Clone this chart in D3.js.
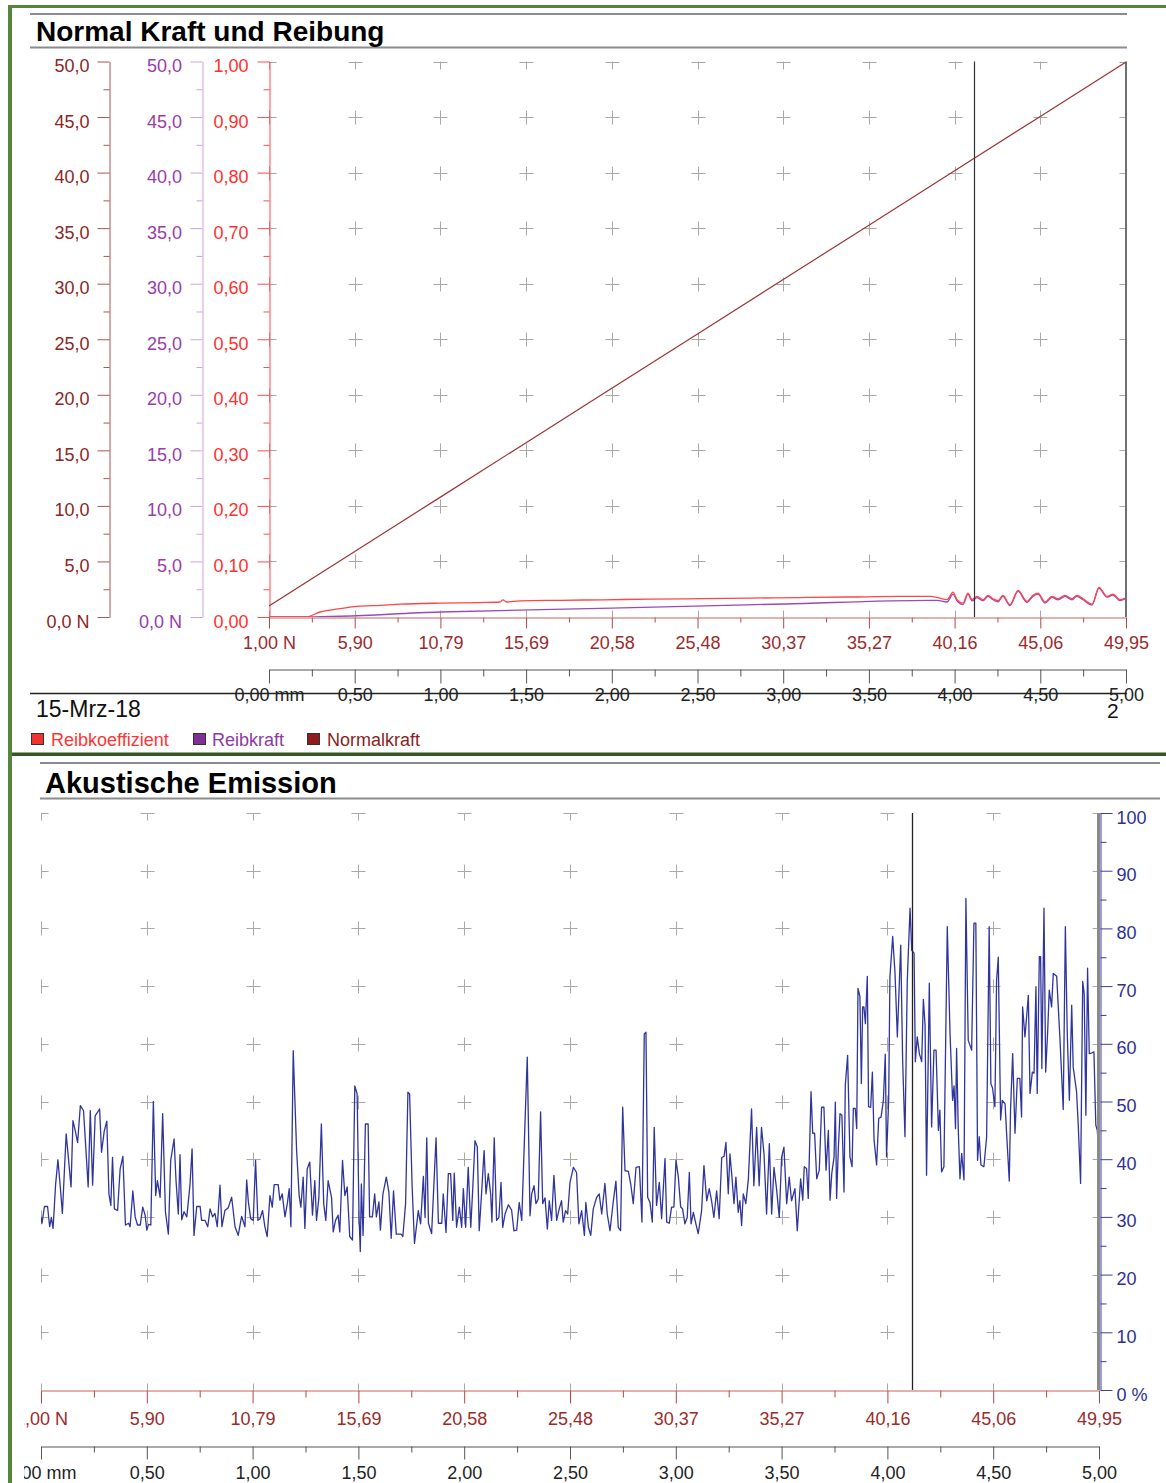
<!DOCTYPE html>
<html><head><meta charset="utf-8">
<script src="https://cdn.jsdelivr.net/npm/d3@7"></script>
<style>
body{margin:0;background:#fff;}
svg{display:block;font-family:"Liberation Sans",Arial,Helvetica,sans-serif;}
</style></head><body>
<svg id="c" width="1166" height="1483"></svg>
<script>
// ---------- data ----------
const mmTicks = [0,0.5,1,1.5,2,2.5,3,3.5,4,4.5,5];
const mmMinorTicks = [0.25,0.75,1.25,1.75,2.25,2.75,3.25,3.75,4.25,4.75];
const mmTickLabels = ["0,00 mm","0,50","1,00","1,50","2,00","2,50","3,00","3,50","4,00","4,50","5,00"];
const nTickLabels = ["1,00 N","5,90","10,79","15,69","20,58","25,48","30,37","35,27","40,16","45,06","49,95"];
const forceTicks = [0,5,10,15,20,25,30,35,40,45,50];
const forceMinorTicks = [2.5,7.5,12.5,17.5,22.5,27.5,32.5,37.5,42.5,47.5];
const forceTickLabels = ["0,0 N","5,0","10,0","15,0","20,0","25,0","30,0","35,0","40,0","45,0","50,0"];
const coefTicks = [0,0.1,0.2,0.3,0.4,0.5,0.6,0.7,0.8,0.9,1.0];
const coefMinorTicks = [0.05,0.15,0.25,0.35,0.45,0.55,0.65,0.75,0.85,0.95];
const coefTickLabels = ["0,00","0,10","0,20","0,30","0,40","0,50","0,60","0,70","0,80","0,90","1,00"];
const aeTicks = [0,10,20,30,40,50,60,70,80,90,100];
const aeMinorTicks = [5,15,25,35,45,55,65,75,85,95];
const aeTickLabels = ["0 %","10","20","30","40","50","60","70","80","90","100"];
const cursorMm = 4.115;

// Normalkraft (N) vs. distance (mm)
const normalMm = [0,0.5,1,1.5,2,2.5,3,3.5,4,4.5,5];
const normalN  = [1.00,5.90,10.79,15.69,20.58,25.48,30.37,35.27,40.16,45.06,49.95];

// Reibkoeffizient vs. distance (mm)
const coefMm  = [0,0.216,0.298,0.414,0.513,0.648,0.764,0.998,1.231,1.348,1.365,1.385,1.464,1.698,1.949,2.223,2.515,2.806,3.098,3.390,3.681,3.860,
  3.897,3.956,3.991,4.014,4.049,4.078,4.102,4.131,4.166,4.195,4.224,4.253,4.282,4.323,4.370,4.422,4.457,4.487,4.527,4.568,4.603,4.644,4.685,4.714,4.749,4.802,4.842,4.889,4.924,4.965,4.994];
const coefVal = [0,0,0.009,0.015,0.019,0.021,0.023,0.025,0.026,0.027,0.031,0.027,0.029,0.030,0.031,0.032,0.033,0.034,0.035,0.036,0.037,0.037,
  0.0354,0.0311,0.0449,0.0311,0.0251,0.0431,0.0311,0.0372,0.0311,0.0390,0.0329,0.0293,0.0390,0.0221,0.0479,0.0282,0.0390,0.0431,0.0269,0.0372,0.0329,0.0390,0.0329,0.0390,0.0329,0.0233,0.0533,0.0372,0.0413,0.0311,0.0341];

// Reibkraft (N) vs. distance (mm)
const frictionMm = [0,0.216,1.0,2.0,3.0,3.860,
  3.897,3.956,3.991,4.014,4.049,4.078,4.102,4.131,4.166,4.195,4.224,4.253,4.282,4.323,4.370,4.422,4.457,4.487,4.527,4.568,4.603,4.644,4.685,4.714,4.749,4.802,4.842,4.889,4.924,4.965,4.994];
const frictionN  = [0,0,0.45,0.80,1.17,1.50,
  1.50,1.35,2.05,1.45,1.12,2.05,1.45,1.75,1.45,1.85,1.55,1.37,1.85,1.02,2.30,1.32,1.85,2.05,1.25,1.76,1.55,1.85,1.55,1.85,1.55,1.08,2.58,1.78,1.98,1.47,1.62];

// Akustische Emission (%) vs. distance (mm)
const aeMm = [0.000,0.005,0.016,0.031,0.041,0.049,0.057,0.069,0.080,0.090,0.101,0.119,0.132,0.142,0.151,0.162,0.173,0.186,0.201,0.223,0.233,0.244,0.256,0.277,0.286,0.299,0.311,0.321,0.330,0.338,0.347,0.362,0.374,0.387,0.399,0.414,0.421,0.434,0.445,0.456,0.469,0.481,0.492,0.500,0.508,0.519,0.531,0.542,0.550,0.563,0.575,0.588,0.602,0.613,0.629,0.638,0.649,0.657,0.665,0.676,0.689,0.704,0.714,0.723,0.736,0.752,0.759,0.775,0.788,0.799,0.811,0.822,0.833,0.846,0.855,0.869,0.885,0.901,0.917,0.932,0.948,0.964,0.972,0.980,0.991,1.003,1.014,1.025,1.035,1.047,1.058,1.069,1.082,1.093,1.102,1.121,1.129,1.140,1.153,1.164,1.173,1.181,1.192,1.208,1.220,1.228,1.239,1.247,1.258,1.270,1.283,1.294,1.302,1.313,1.325,1.336,1.346,1.357,1.373,1.381,1.392,1.404,1.412,1.425,1.436,1.447,1.459,1.472,1.483,1.494,1.503,1.509,1.514,1.522,1.533,1.546,1.553,1.566,1.577,1.585,1.597,1.604,1.616,1.632,1.644,1.655,1.666,1.679,1.702,1.710,1.723,1.734,1.742,1.754,1.765,1.783,1.794,1.807,1.815,1.823,1.831,1.846,1.867,1.878,1.894,1.901,1.914,1.925,1.936,1.946,1.953,1.964,1.977,1.988,1.996,2.007,2.019,2.031,2.040,2.051,2.062,2.071,2.082,2.094,2.103,2.114,2.125,2.131,2.142,2.153,2.164,2.174,2.182,2.193,2.209,2.224,2.235,2.248,2.260,2.272,2.284,2.298,2.311,2.319,2.330,2.339,2.350,2.361,2.371,2.382,2.393,2.402,2.413,2.424,2.437,2.449,2.460,2.468,2.479,2.489,2.500,2.516,2.531,2.542,2.555,2.568,2.575,2.587,2.598,2.610,2.626,2.638,2.650,2.665,2.676,2.689,2.705,2.717,2.728,2.739,2.749,2.760,2.776,2.787,2.799,2.812,2.828,2.840,2.851,2.859,2.867,2.878,2.889,2.898,2.909,2.922,2.933,2.949,2.957,2.969,2.980,2.991,3.001,3.012,3.023,3.032,3.043,3.054,3.064,3.072,3.083,3.095,3.106,3.122,3.133,3.146,3.158,3.169,3.180,3.193,3.205,3.217,3.228,3.237,3.248,3.256,3.264,3.275,3.284,3.295,3.303,3.311,3.319,3.331,3.343,3.358,3.369,3.382,3.394,3.405,3.417,3.429,3.442,3.453,3.464,3.476,3.489,3.500,3.511,3.524,3.536,3.547,3.563,3.574,3.590,3.600,3.607,3.618,3.626,3.639,3.647,3.656,3.666,3.678,3.689,3.700,3.710,3.721,3.729,3.737,3.748,3.754,3.760,3.768,3.776,3.785,3.795,3.801,3.812,3.823,3.833,3.839,3.848,3.855,3.861,3.870,3.877,3.883,3.889,3.896,3.905,3.911,3.921,3.929,3.937,3.949,3.959,3.970,3.981,3.990,3.996,4.006,4.012,4.025,4.036,4.047,4.063,4.072,4.083,4.094,4.107,4.115,4.126,4.132,4.141,4.151,4.162,4.170,4.178,4.185,4.198,4.209,4.220,4.230,4.241,4.248,4.256,4.267,4.283,4.296,4.308,4.315,4.322,4.327,4.335,4.343,4.351,4.362,4.371,4.382,4.398,4.409,4.418,4.426,4.434,4.442,4.456,4.469,4.481,4.489,4.497,4.508,4.516,4.524,4.535,4.543,4.556,4.563,4.576,4.582,4.592,4.603,4.614,4.626,4.634,4.639,4.650,4.658,4.666,4.674,4.685,4.693,4.702,4.708,4.718,4.724,4.730,4.740,4.748,4.757,4.765,4.776,4.784,4.800,4.815,4.831,4.841,4.850,4.860,4.871,4.878,4.894,4.902,4.913,4.923,4.930,4.938,4.946,4.954,4.965,4.976,4.985,4.992,4.997];
const aeVal = [30.0,28.9,31.8,31.8,28.3,29.9,28.0,35.6,39.9,35.7,30.6,44.4,39.2,35.2,46.7,44.9,42.9,49.3,48.4,35.2,48.4,35.5,47.5,48.7,41.2,44.9,46.6,34.0,32.0,40.3,31.4,31.1,38.3,40.5,28.6,28.9,28.3,34.5,30.0,28.6,28.6,31.7,30.3,27.7,28.7,28.6,50.0,33.7,36.3,33.4,47.9,30.9,27.0,39.8,43.5,36.3,30.5,40.8,29.5,30.9,30.0,35.5,41.8,26.8,31.8,31.8,29.4,29.4,28.3,31.4,30.0,30.6,28.3,35.5,28.3,31.1,31.6,33.4,28.3,26.8,30.1,28.3,36.4,32.6,29.7,29.4,39.8,29.4,29.7,31.1,28.3,26.6,33.7,31.7,35.6,35.6,32.9,34.0,30.0,32.3,34.9,28.3,58.8,41.5,33.7,31.7,36.9,28.0,38.3,39.5,30.3,36.3,29.4,33.2,46.1,32.3,29.4,36.3,33.4,27.4,29.4,30.3,27.4,39.8,33.7,35.2,26.6,26.0,52.7,51.3,30.0,24.0,35.7,26.8,46.1,46.1,30.0,30.0,34.0,30.0,32.6,27.7,34.0,36.9,34.3,26.3,34.5,27.0,27.0,26.6,32.3,51.6,51.3,35.2,25.4,31.1,28.8,37.0,29.9,43.7,28.9,27.1,43.7,28.9,28.9,34.0,27.3,37.5,37.5,29.4,37.6,28.2,31.7,28.2,34.9,28.2,38.6,28.2,34.6,43.2,42.1,27.6,34.0,41.5,34.0,37.5,34.0,29.1,43.7,29.4,29.9,36.0,28.2,30.5,32.1,31.2,27.6,27.7,32.5,29.4,42.7,57.7,30.2,34.0,35.4,32.3,33.1,48.2,32.3,33.3,27.9,32.8,29.4,37.2,29.4,31.4,32.8,29.1,31.1,30.5,36.0,38.6,37.7,28.8,31.1,26.8,32.5,28.2,26.8,31.4,33.4,34.0,30.5,35.8,30.5,27.6,32.8,36.2,28.2,27.6,49.0,38.0,37.9,35.7,32.3,38.6,38.7,29.1,61.7,62.0,33.4,32.5,29.1,45.5,32.0,36.0,29.7,40.1,29.1,28.9,31.7,31.7,39.8,36.9,31.7,31.4,28.8,29.9,37.7,28.8,30.8,28.8,27.1,31.1,38.9,32.8,34.9,32.8,29.9,34.5,29.7,40.3,40.5,42.9,34.0,40.9,37.5,32.3,36.9,30.8,32.8,28.5,34.0,32.3,36.6,48.7,35.4,45.5,35.4,45.5,40.9,30.5,42.7,30.5,38.6,34.9,29.9,40.3,42.1,32.3,36.9,32.8,34.9,27.6,36.6,32.9,38.7,38.4,33.2,51.7,44.5,44.5,36.6,38.1,49.0,49.0,38.1,45.0,32.9,37.5,40.4,49.9,33.2,41.8,47.9,47.6,34.3,52.8,58.0,40.4,38.7,48.8,48.8,45.3,69.6,68.2,53.1,66.4,66.4,63.5,71.7,49.1,49.0,55.1,43.3,39.0,47.1,47.3,50.2,58.2,40.4,50.2,71.6,78.6,72.2,61.2,77.1,57.2,43.9,71.0,83.5,76.2,75.7,56.9,61.2,58.3,56.9,67.7,63.2,37.2,70.5,45.6,58.9,58.9,45.0,48.5,37.8,38.7,80.3,61.8,50.2,52.7,45.3,59.2,45.0,36.6,41.0,36.4,85.2,60.6,58.9,80.9,80.9,39.8,43.9,39.0,38.7,43.9,80.3,53.1,52.3,49.1,71.0,75.0,46.8,50.2,49.6,44.7,36.2,48.5,58.3,44.5,54.0,54.0,47.3,66.4,61.2,64.7,68.4,51.4,55.1,54.9,69.9,51.4,75.1,75.1,55.7,83.5,55.1,61.8,69.3,66.4,72.2,71.7,61.2,48.6,80.3,61.8,50.2,66.7,56.0,51.7,45.9,35.8,70.8,68.7,47.6,73.1,58.3,58.4,58.6,45.9,45.0,42.1];

const legendItems = ["Reibkoeffizient","Reibkraft","Normalkraft"];
const legendColors = ["#ee3333","#7f2f95","#8e1c1c"];
const legendTextColors = ["#ff3535","#8e3aa4","#8b1f1f"];

// ---------- drawing ----------
const FONT = '"Liberation Sans", Arial, Helvetica, sans-serif';
const svg = d3.select('#c');
const defs = svg.append('defs');
defs.append('clipPath').attr('id','clipT').append('rect').attr('x',269).attr('y',61.5).attr('width',857).attr('height',555.5);
defs.append('clipPath').attr('id','clipB').append('rect').attr('x',41).attr('y',813).attr('width',1058).attr('height',577);
defs.append('clipPath').attr('id','clipPanelB').append('rect').attr('x',24).attr('y',756).attr('width',1142).attr('height',727);

// frame
svg.append('rect').attr('x',8).attr('y',5).attr('width',4).attr('height',1478).attr('fill','#55843b');
svg.append('rect').attr('x',8).attr('y',5).attr('width',1158).attr('height',3).attr('fill','#55843b');
svg.append('rect').attr('x',12).attr('y',752.5).attr('width',1154).attr('height',3.5).attr('fill','#36561f');

// title rules
function rule(x1,x2,y,c,w){ svg.append('line').attr('x1',x1).attr('x2',x2).attr('y1',y).attr('y2',y).attr('stroke',c).attr('stroke-width',w); }
rule(30,1127,14,'#8c8c8c',2);
rule(30,1127,47.5,'#8c8c8c',2);
rule(40,1160,763,'#8c8c8c',2);
rule(40,1160,798.5,'#8c8c8c',2);
svg.append('text').attr('x',36).attr('y',41).attr('font-size',28).attr('font-weight','bold').attr('fill','#000').text('Normal Kraft und Reibung');
svg.append('text').attr('x',45).attr('y',792.5).attr('font-size',29).attr('font-weight','bold').attr('fill','#000').text('Akustische Emission');

// scales
const xT = d3.scaleLinear().domain([0,5]).range([269,1126]);
const yC = d3.scaleLinear().domain([0,1]).range([617,61.5]);
const yF = d3.scaleLinear().domain([0,50]).range([617,61.5]);
const xB = d3.scaleLinear().domain([0,5]).range([41,1099]);
const yA = d3.scaleLinear().domain([0,100]).range([1390,813]);

function crosses(xs, ys, xsc, ysc, clip){
  const g = svg.append('g').attr('clip-path',`url(#${clip})`).attr('stroke','#a8a8a8').attr('stroke-width',1).attr('fill','none');
  xs.forEach(m => ys.forEach(v => {
    const x = Math.round(xsc(m))+0.5, y = Math.round(ysc(v))+0.5;
    g.append('path').attr('d',`M${x-7},${y}H${x+7}M${x},${y-7}V${y+7}`);
  }));
}
crosses(mmTicks, coefTicks, xT, yC, 'clipT');
crosses(mmTicks, aeTicks, xB, yA, 'clipB');

function makeAxis(parent, gen, scale, tr, major, labels, minor, o){
  const gm = parent.append('g').attr('transform',tr);
  gm.call(gen(scale).tickValues(minor).tickSize(o.minor).tickFormat(()=>'').tickSizeOuter(0));
  gm.select('.domain').remove();
  gm.selectAll('line').attr('stroke',o.tick);
  const g = parent.append('g').attr('transform',tr);
  g.call(gen(scale).tickValues(major).tickFormat((d,i)=>labels[i]).tickSize(o.major).tickPadding(o.pad).tickSizeOuter(0));
  g.attr('font-family',null).attr('font-size',null);
  g.select('.domain').attr('stroke',o.line).attr('stroke-width',o.lw||1);
  g.selectAll('.tick line').attr('stroke',o.tick);
  g.selectAll('.tick text').attr('fill',o.text).style('font-size',(o.fs||18)+'px').style('font-family',FONT);
  if(o.dy) g.selectAll('.tick text').attr('dy',o.dy);
  return g;
}

// --- top chart axes
makeAxis(svg, d3.axisLeft, yF, 'translate(109.5,0)', forceTicks, forceTickLabels, forceMinorTicks,
  {major:12, minor:6, pad:8, line:'#a85656', tick:'#a85656', text:'#8c2626', dy:'0.56em'});
makeAxis(svg, d3.axisLeft, yF, 'translate(202.5,0)', forceTicks, forceTickLabels, forceMinorTicks,
  {major:12, minor:6, pad:8.5, line:'#cba3db', tick:'#cba3db', text:'#9b3bab', dy:'0.56em'});
makeAxis(svg, d3.axisLeft, yC, 'translate(269.5,0)', coefTicks, coefTickLabels, coefMinorTicks,
  {major:12, minor:6, pad:9, line:'#ff4a4a', tick:'#ff4a4a', text:'#ff3030', dy:'0.56em'});
makeAxis(svg, d3.axisBottom, xT, 'translate(0,617.5)', mmTicks, nTickLabels, mmMinorTicks,
  {major:11, minor:5, pad:8, line:'#c46464', tick:'#b04848', text:'#9b2b2b'});
makeAxis(svg, d3.axisBottom, xT, 'translate(0,669.5)', mmTicks, mmTickLabels, mmMinorTicks,
  {major:14, minor:7, pad:5, line:'#555', tick:'#555', text:'#222'});

// plot right border & cursor (top)
svg.append('line').attr('x1',xT(5)).attr('x2',xT(5)).attr('y1',yC(1)).attr('y2',yC(0)).attr('stroke','#707070').attr('stroke-width',2);

// lines top
const lineNorm = d3.line().x((d,i)=>xT(normalMm[i])).y(d=>yF(d));
const lineFric = d3.line().x((d,i)=>xT(frictionMm[i])).y(d=>yF(d));
const lineCoef = d3.line().x((d,i)=>xT(coefMm[i])).y(d=>yC(d)).curve(d3.curveMonotoneX);
const gT = svg.append('g').attr('clip-path','url(#clipT)').attr('fill','none');
gT.append('path').attr('d',lineNorm(normalN)).attr('stroke','#9e3434').attr('stroke-width',1.2);
gT.append('path').attr('d',d3.line().x((d,i)=>xT(frictionMm[i])).y(d=>yF(d)).curve(d3.curveMonotoneX)(frictionN)).attr('stroke','#9a4ab8').attr('stroke-width',1.3);
gT.append('path').attr('d',lineCoef(coefVal)).attr('stroke','#ff4545').attr('stroke-width',1.3);
svg.append('line').attr('x1',Math.round(xT(cursorMm))+0.5).attr('x2',Math.round(xT(cursorMm))+0.5).attr('y1',yC(1)).attr('y2',yC(0)).attr('stroke','#333').attr('stroke-width',1.2);

// separator, date, legend
rule(30,1127,693.5,'#222',1.3);
svg.append('text').attr('x',36).attr('y',717).attr('font-size',23).attr('fill','#111').text('15-Mrz-18');
svg.append('text').attr('x',1107).attr('y',718).attr('font-size',21).attr('fill','#111').text('2');
const legX = [31,193,307], legTX = [51,212,327];
legendItems.forEach((t,i)=>{
  svg.append('rect').attr('x',legX[i]+0.5).attr('y',733.5).attr('width',12).attr('height',11).attr('fill',legendColors[i]).attr('stroke','#333').attr('stroke-width',1);
  svg.append('text').attr('x',legTX[i]).attr('y',746).attr('font-size',18).attr('fill',legendTextColors[i]).text(t);
});

// --- bottom chart
const gB = svg.append('g').attr('clip-path','url(#clipB)').attr('fill','none');
gB.append('path').attr('d',d3.line().x((d,i)=>xB(aeMm[i])).y(d=>yA(d))(aeVal)).attr('stroke','#30359c').attr('stroke-width',1.3).attr('stroke-linejoin','round');
svg.append('line').attr('x1',Math.round(xB(cursorMm))+0.5).attr('x2',Math.round(xB(cursorMm))+0.5).attr('y1',yA(100)).attr('y2',yA(0)).attr('stroke','#222').attr('stroke-width',1.3);
svg.append('line').attr('x1',1098.5).attr('x2',1098.5).attr('y1',yA(100)).attr('y2',yA(0)).attr('stroke','#8a8a8a').attr('stroke-width',3);

const pB = svg.append('g').attr('clip-path','url(#clipPanelB)');
makeAxis(pB, d3.axisRight, yA, 'translate(1100.5,0)', aeTicks, aeTickLabels, aeMinorTicks,
  {major:12, minor:6, pad:4, line:'#3a3f9e', tick:'#3a3f9e', text:'#2e3192', dy:'0.56em'});
makeAxis(pB, d3.axisBottom, xB, 'translate(0,1390.5)', mmTicks, nTickLabels, mmMinorTicks,
  {major:13, minor:7, pad:9, line:'#c46464', tick:'#b04848', text:'#9b2b2b'});
makeAxis(pB, d3.axisBottom, xB, 'translate(0,1446.5)', mmTicks, mmTickLabels, mmMinorTicks,
  {major:13, minor:6, pad:7, line:'#555', tick:'#555', text:'#222'});
</script>
</body></html>
